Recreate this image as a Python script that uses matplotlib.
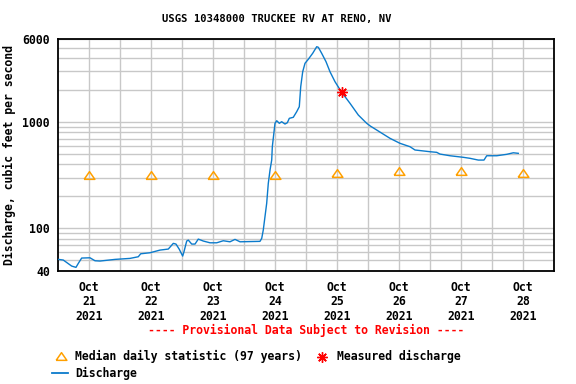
import matplotlib
matplotlib.use("Agg")
import matplotlib.pyplot as plt
from matplotlib.ticker import FixedLocator, NullFormatter

# ---- data ----
title = "USGS 10348000 TRUCKEE RV AT RENO, NV"
ylabel = "Discharge, cubic feet per second"
day_labels = ["Oct\n21\n2021", "Oct\n22\n2021", "Oct\n23\n2021", "Oct\n24\n2021",
              "Oct\n25\n2021", "Oct\n26\n2021", "Oct\n27\n2021", "Oct\n28\n2021"]

# days since Oct 21 00:00
q_days = [0.000, 0.080, 0.216, 0.285, 0.323, 0.377, 0.511, 0.592, 0.673, 0.915,
          1.156, 1.290, 1.329, 1.479, 1.640, 1.774, 1.855, 1.898, 1.952, 2.006,
          2.027, 2.071, 2.097, 2.152, 2.205, 2.258, 2.339, 2.447, 2.555, 2.661,
          2.769, 2.850, 2.931, 3.253, 3.281, 3.306, 3.361, 3.387, 3.415, 3.442,
          3.452, 3.495, 3.523, 3.565, 3.603, 3.656, 3.694, 3.726, 3.790, 3.845,
          3.887, 3.910, 3.942, 3.979, 4.032, 4.103, 4.168, 4.194, 4.248, 4.318,
          4.382, 4.463, 4.571, 4.705, 4.839, 4.974, 5.033, 5.194, 5.350, 5.511,
          5.673, 5.753, 5.995, 6.103, 6.156, 6.318, 6.532, 6.640, 6.774, 6.866,
          6.910, 7.071, 7.232, 7.339, 7.419]
q_cfs = [51.1, 50.4, 44.2, 43.0, 46.9, 52.6, 52.9, 49.6, 49.3, 51.1,
         52.2, 54.1, 57.7, 59.0, 62.5, 63.9, 72.3, 71.2, 63.5, 54.9,
         60.3, 76.0, 77.6, 71.2, 71.2, 79.3, 76.0, 73.2, 73.2, 76.5,
         74.8, 78.8, 74.8, 75.5, 80.6, 96.4, 172, 265, 354, 439,
         586, 973, 1029, 973, 1007, 958, 985, 1084, 1108, 1251,
         1394, 2149, 2974, 3567, 3891, 4431, 5111, 5045, 4431, 3694,
         2974, 2395, 1904, 1500, 1164, 973, 917, 801, 703, 631,
         586, 546, 526, 519, 500, 482, 466, 456, 439, 439,
         482, 482, 497, 514, 508]

median_days = [0.5, 1.5, 2.5, 3.5, 4.5, 5.5, 6.5, 7.5]
median_cfs = [315, 315, 315, 320, 329, 344, 344, 329]

meas_day = [4.571]
meas_cfs = [1904]

ytick_vals = [40, 100, 1000, 6000]
ygrid_vals = [50, 60, 70, 80, 90, 200, 300, 400, 500, 600, 700, 800, 900,
              2000, 3000, 4000, 5000]

# ---- style ----
FONT = "DejaVu Sans Mono"
plt.rcParams["font.family"] = [FONT]
plt.rcParams["font.weight"] = "bold"
BLUE = "#0b7bcc"
ORANGE = "#ffa000"
GRID = "#c8c8c8"
FS = 8.3

fig = plt.figure(figsize=(5.76, 3.84), dpi=100)
ax = fig.add_axes([58.3 / 576, 1 - 270.7 / 384, 496 / 576, 231.4 / 384])

ax.set_yscale("log")
ax.set_ylim(40, 6000)
ax.set_xlim(0, 8)

ax.yaxis.set_major_locator(FixedLocator(ytick_vals))
ax.yaxis.set_major_formatter(plt.FixedFormatter([str(v) for v in ytick_vals]))
ax.yaxis.set_minor_locator(FixedLocator(ygrid_vals))
ax.yaxis.set_minor_formatter(NullFormatter())

ax.xaxis.set_major_locator(FixedLocator(list(range(1, 8))))
ax.xaxis.set_major_formatter(NullFormatter())
ax.xaxis.set_minor_locator(FixedLocator(median_days))
ax.xaxis.set_minor_formatter(plt.FixedFormatter(day_labels))

ax.tick_params(axis="both", which="both", length=0)
ax.tick_params(axis="x", which="minor", pad=7.5, labelsize=FS)
ax.tick_params(axis="y", which="major", pad=6, labelsize=FS)
for lab in ax.get_xticklabels(minor=True):
    lab.set_fontweight("bold")
    lab.set_linespacing(1.12)
for lab in ax.get_yticklabels():
    lab.set_fontweight("bold")

ax.grid(True, which="both", axis="both", color=GRID, linewidth=1.0)
ax.set_axisbelow(True)
for s in ax.spines.values():
    s.set_linewidth(1.3)
    s.set_color("black")

ax.plot(q_days, q_cfs, color=BLUE, linewidth=1.0, zorder=3)
tri = [(-1, -0.72), (0, 0.72), (1, -0.72), (-1, -0.72)]
ax.plot(median_days, median_cfs, linestyle="none", marker=tri, markersize=7.7,
        markerfacecolor="none", markeredgecolor=ORANGE, markeredgewidth=1.1, zorder=4)
ax.plot(meas_day, meas_cfs, linestyle="none", marker=(8, 2, 0), markersize=7.5,
        color="red", markeredgewidth=1.0, zorder=5)
ax.plot(meas_day, meas_cfs, linestyle="none", marker="o", markersize=3.0,
        color="red", zorder=5)

ax.set_ylabel(ylabel, fontsize=FS, fontweight="bold", labelpad=5)

fig.text(277 / 576, 1 - 19 / 384, title, ha="center", va="center",
         fontsize=7.6, fontweight="bold")
fig.text(306 / 576, 1 - 330 / 384, "---- Provisional Data Subject to Revision ----",
         ha="center", va="center", fontsize=FS, fontweight="bold", color="red")

# legend (figure pixel coordinates)
lax = fig.add_axes([0, 0, 1, 1], facecolor="none")
lax.set_xlim(0, 576)
lax.set_ylim(384, 0)
lax.axis("off")
lax.plot([60.7], [356.2], linestyle="none", marker=tri, markersize=7.7,
         markerfacecolor="none", markeredgecolor=ORANGE, markeredgewidth=1.1)
lax.text(75, 356.7, "Median daily statistic (97 years)", va="center", ha="left",
         fontsize=FS, fontweight="bold")
lax.plot([321.7], [356.7], linestyle="none", marker=(8, 2, 0), markersize=7.5,
         color="red", markeredgewidth=1.0)
lax.text(336.7, 356.7, "Measured discharge", va="center", ha="left",
         fontsize=FS, fontweight="bold")
lax.plot([51.7, 68.3], [373.3, 373.3], color=BLUE, linewidth=1.3)
lax.text(75, 373.3, "Discharge", va="center", ha="left", fontsize=FS, fontweight="bold")

fig.savefig("out.png", dpi=100)
